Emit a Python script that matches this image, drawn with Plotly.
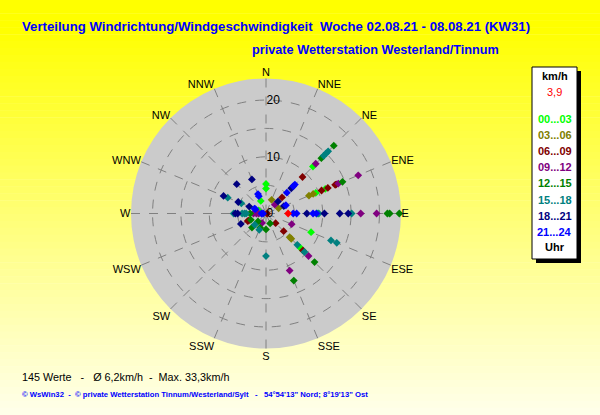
import plotly.graph_objects as go

# ---------------- data ----------------
DIRECTIONS = ["N", "NNE", "NE", "ENE", "E", "ESE", "SE", "SSE",
              "S", "SSW", "SW", "WSW", "W", "WNW", "NW", "NNW"]
RADIAL_TICKS = [0, 5, 10, 15, 20]
RADIAL_TICKTEXT = ["0", "", "10", "", "20"]

hour_labels = ["00...03", "03...06", "06...09", "09...12",
               "12...15", "15...18", "18...21", "21...24"]
hour_colors = ["#00ff00", "#808000", "#800000", "#800080",
               "#008000", "#008080", "#000080", "#0000ff"]

h00_03_dir = ["N", "N", "NNW", "NE", "ENE", "ENE", "E", "ESE", "SE", "WNW"]
h00_03_kmh = [5.2, 4.4, 2.4, 11.7, 11.3, 9.5, 9.0, 8.6, 8.6, 1.4]

h03_06_dir = ["NNE", "ENE", "ENE", "ENE", "SE", "SE"]
h03_06_kmh = [2.6, 2.4, 8.2, 9.0, 5.9, 6.3]

h06_09_dir = ["NE", "NE", "ENE", "ENE", "ENE", "ENE", "SE", "SE", "SE", "WSW", "WSW", "E"]
h06_09_kmh = [9.1, 4.0, 13.4, 13.2, 11.8, 10.6, 2.4, 4.4, 9.2, 3.5, 3.3, 0.2]

h09_12_dir = ["NE", "NE", "ENE", "ENE", "E", "E", "ESE", "SE", "SSE", "W", "W", "W", "SSW"]
h09_12_kmh = [12.4, 2.2, 17.6, 13.8, 16.7, 19.5, 4.9, 10.6, 10.9, 2.2, 1.7, 1.3, 1.8]

h12_15_dir = ["NE", "NE", "ENE", "E", "E", "E", "SE", "SSE", "SSE", "S", "W", "WSW", "SW", "SW", "SSW"]
h12_15_kmh = [16.9, 13.8, 14.6, 21.4, 21.8, 23.5, 12.1, 12.8, 1.9, 2.8, 2.8, 2.9, 3.5, 2.0, 2.7]

h15_18_dir = ["NE", "NE", "NE", "E", "E", "ESE", "ESE", "SE", "SE", "S", "SSW", "SW",
              "W", "W", "W", "W", "WNW", "WNW"]
h15_18_kmh = [15.5, 15.0, 14.4, 15.1, 9.3, 12.4, 13.5, 7.8, 9.6, 7.5, 3.1, 2.8,
              5.7, 4.2, 3.8, 3.5, 7.3, 4.7]

h18_21_dir = ["NE", "NE", "ENE", "E", "E", "E", "E", "NNW", "NW", "WNW", "WNW", "WNW", "W", "W", "WSW"]
h18_21_kmh = [6.3, 3.0, 3.4, 7.2, 10.3, 13.0, 14.5, 6.5, 7.3, 8.1, 5.3, 3.2, 5.4, 5.0, 4.8]

h21_24_dir = ["NE", "NE", "NE", "ENE", "E", "E", "E", "E", "NNW", "NNW", "WNW", "WNW", "W", "W"]
h21_24_kmh = [7.2, 6.8, 5.2, 3.8, 4.8, 5.4, 8.3, 8.9, 3.7, 3.3, 2.0, 2.2, 0.8, 0.5]

current_dir = ["E"]
current_kmh = [3.9]
current_label = "3,9"

title_line1 = "Verteilung Windrichtung/Windgeschwindigkeit  Woche 02.08.21 - 08.08.21 (KW31)"
title_line2 = "private Wetterstation Westerland/Tinnum"
stats_text = "145 Werte   -   Ø 6,2km/h  -  Max. 33,3km/h"
copyright_text = "© WsWin32  -  © private Wetterstation Tinnum/Westerland/Sylt   -   54°54'13\" Nord; 8°19'13\" Ost"

# ---------------- figure ----------------
W, H = 600, 415
ANG = {d: i * 22.5 for i, d in enumerate(DIRECTIONS)}
FONT = "Liberation Sans, Arial, sans-serif"

series = [
    (h00_03_dir, h00_03_kmh), (h03_06_dir, h03_06_kmh), (h06_09_dir, h06_09_kmh),
    (h09_12_dir, h09_12_kmh), (h12_15_dir, h12_15_kmh), (h15_18_dir, h15_18_kmh),
    (h18_21_dir, h18_21_kmh), (h21_24_dir, h21_24_kmh),
]

fig = go.Figure()
for (dirs, kmh), lab, col in zip(series, hour_labels, hour_colors):
    fig.add_trace(go.Scatterpolar(
        r=kmh, theta=[ANG[d] for d in dirs], mode="markers", name=lab,
        marker=dict(symbol="diamond", size=6, color=col, line=dict(width=0)),
    ))
fig.add_trace(go.Scatterpolar(
    r=current_kmh, theta=[ANG[d] for d in current_dir], mode="markers", name="aktuell",
    marker=dict(symbol="diamond", size=6, color="#ff0000", line=dict(width=0)),
))

def px(x):
    return x / W

def py(y):
    return 1 - y / H

shapes = []
# background gradient (yellow -> pale yellow)
n = 60
for i in range(n):
    y0 = H * i / n
    y1 = H * (i + 1) / n
    ym = (y0 + y1) / 2
    t = max(0.0, (ym - 30) / (H - 30))
    b = int(round(235 * t ** 0.95))
    shapes.append(dict(type="rect", xref="paper", yref="paper", layer="below",
                       x0=0, x1=1, y0=py(y1), y1=py(y0) + 0.001,
                       fillcolor=f"rgb(255,255,{b})", line=dict(width=0)))

# legend box with shadow
bx0, bx1, by0, by1 = 532, 577, 67, 259
shapes.append(dict(type="rect", xref="paper", yref="paper", layer="above",
                   x0=px(bx0 + 4), x1=px(bx1 + 4), y0=py(by1 + 4), y1=py(by0 + 4),
                   fillcolor="black", line=dict(width=0)))
shapes.append(dict(type="rect", xref="paper", yref="paper", layer="above",
                   x0=px(bx0), x1=px(bx1), y0=py(by1), y1=py(by0),
                   fillcolor="white", line=dict(color="black", width=1)))

ann = []
def text(x, y, s, color="black", size=11, bold=False, anchor="center"):
    ann.append(dict(x=px(x), y=py(y), xref="paper", yref="paper", text=(f"<b>{s}</b>" if bold else s),
                    showarrow=False, xanchor=anchor, yanchor="middle",
                    font=dict(family=FONT, size=size, color=color)))

cx = (bx0 + bx1) / 2
text(cx, 76, "km/h", bold=True, size=11)
text(cx, 92, current_label, color="#ff0000", size=11)
for i, (lab, col) in enumerate(zip(hour_labels, hour_colors)):
    text(cx, 119 + i * 16.1, lab, color=col, bold=True, size=11)
text(cx, 247, "Uhr", bold=True, size=11)

text(20, 26, title_line1, color="#0000ff", bold=True, size=13.2, anchor="left")
text(250, 50, title_line2, color="#0000ff", bold=True, size=12.7, anchor="left")
text(20, 377, stats_text, size=10.8, anchor="left")
text(20, 394, copyright_text, color="#0000ff", bold=True, size=7.7, anchor="left")

ccx, ccy, rad = 266, 213.5, 135
fig.update_layout(
    width=W, height=H,
    margin=dict(l=0, r=0, t=0, b=0),
    paper_bgcolor="#ffffe6",
    showlegend=False,
    shapes=shapes,
    annotations=ann,
    polar=dict(
        domain=dict(x=[px(ccx - rad), px(ccx + rad)], y=[py(ccy + rad), py(ccy - rad)]),
        bgcolor="#cbcbcb",
        angularaxis=dict(
            direction="clockwise", rotation=90,
            tickmode="array", tickvals=[ANG[d] for d in DIRECTIONS], ticktext=DIRECTIONS,
            showline=False, ticks="", showgrid=True,
            gridcolor="#808080", griddash="dash", gridwidth=1,
            tickfont=dict(family=FONT, size=11, color="black"),
        ),
        radialaxis=dict(
            range=[0, 23.8], angle=90, side="clockwise",
            tickmode="array", tickvals=RADIAL_TICKS, ticktext=RADIAL_TICKTEXT,
            showline=False, ticks="", showgrid=True,
            gridcolor="#808080", griddash="dash", gridwidth=1,
            tickangle=90,
            tickfont=dict(family=FONT, size=12, color="black"),
        ),
    ),
)

fig.write_html("out.html", config={"displayModeBar": False},
               post_script="document.body.style.margin='0';")
